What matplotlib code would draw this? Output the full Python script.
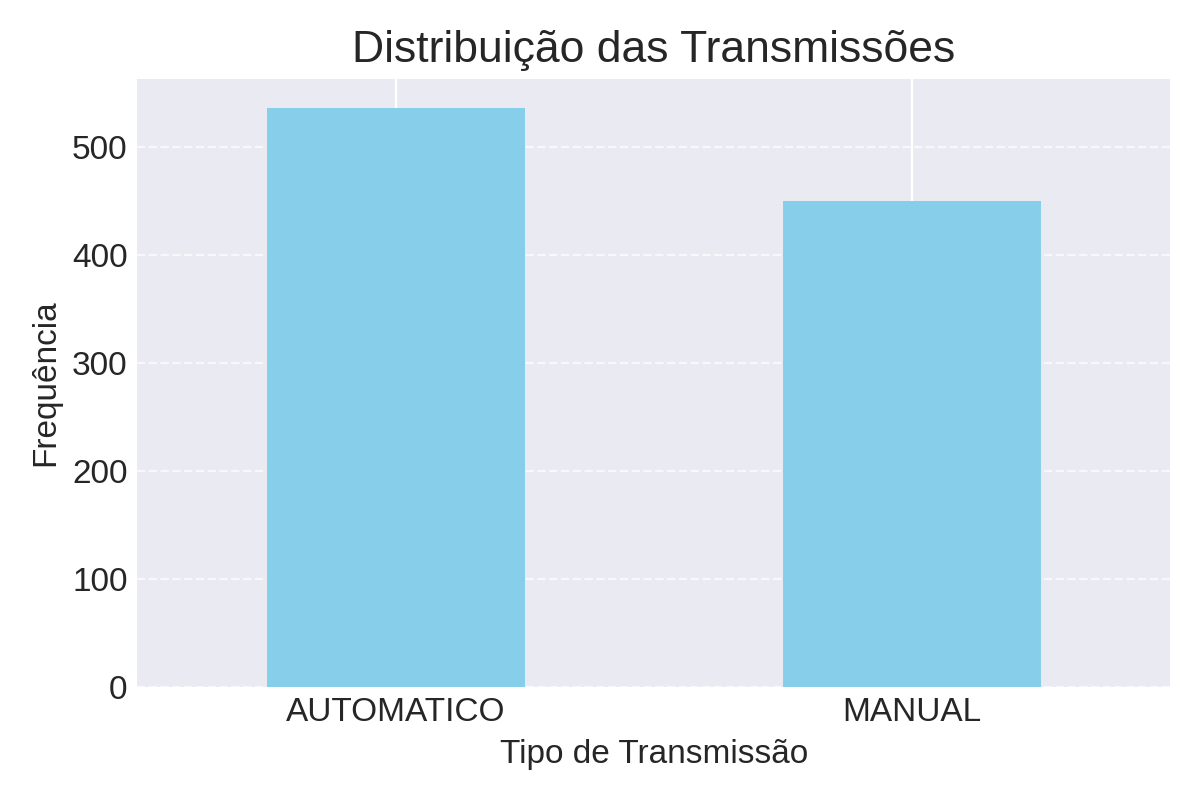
import matplotlib
matplotlib.use("Agg")
import matplotlib.pyplot as plt

plt.style.use("seaborn-v0_8-darkgrid")
plt.rcParams['font.family'] = ['Liberation Sans', 'DejaVu Sans']

categories = ["AUTOMATICO", "MANUAL"]
counts = [536, 450]

fig, ax = plt.subplots(figsize=(6, 4), dpi=200)
x = list(range(len(categories)))
ax.bar(x, counts, width=0.5, color="skyblue", zorder=2)
ax.set_xticks(x)
ax.set_xticklabels(categories, rotation=0)
ax.set_xlim(-0.5, 1.5)
ax.tick_params(labelsize=12)
ax.set_title("Distribuição das Transmissões", fontsize=16)
ax.set_xlabel("Tipo de Transmissão", fontsize=12)
ax.set_ylabel("Frequência", fontsize=12)
ax.grid(axis='y', linestyle='--', alpha=0.7)
fig.tight_layout()
fig.savefig("out.png", dpi=200)
